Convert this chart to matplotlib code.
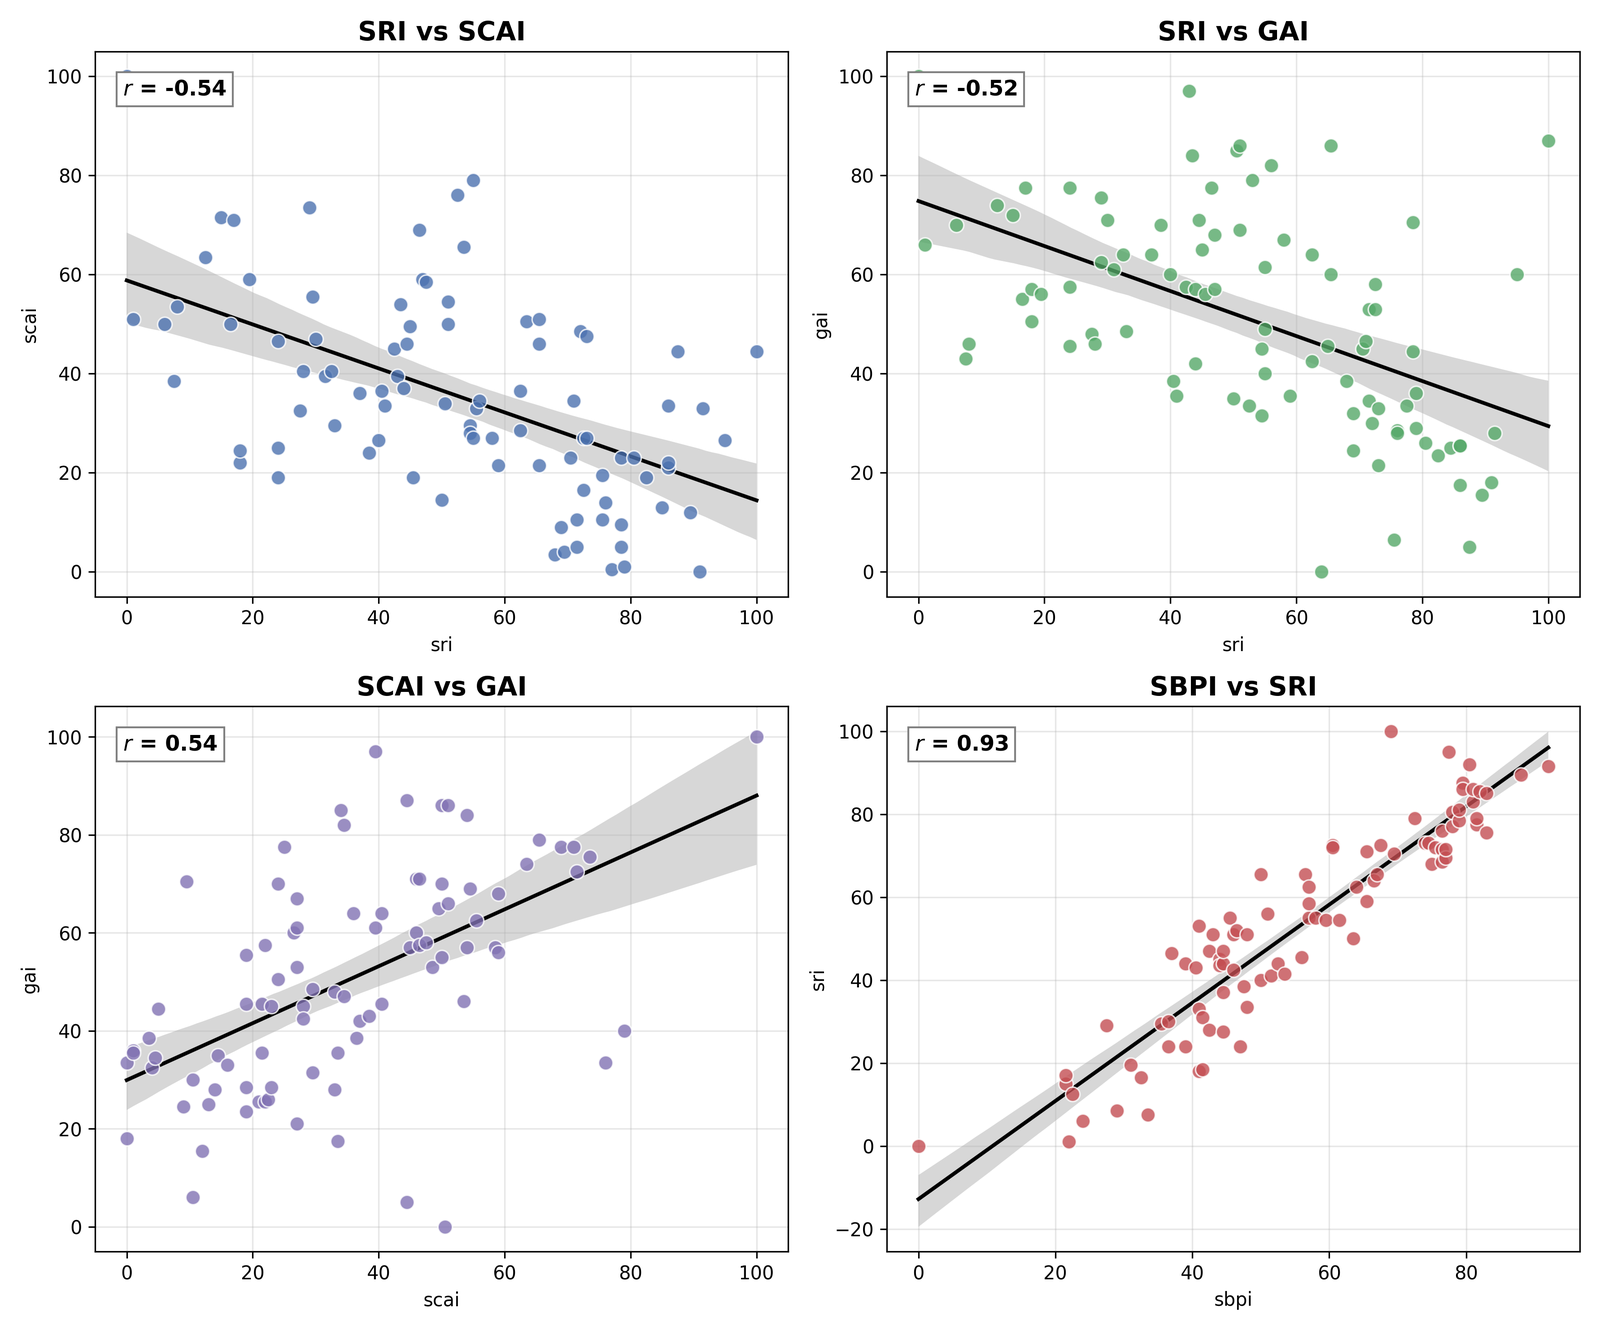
import numpy as np
import matplotlib.pyplot as plt
import seaborn as sns

# SRI vs SCAI
p1_sri = [0,1,6,7.5,8,12.5,15,16.5,17,18,18,19.5,24,24,24,27.5,28,29,29.5,30,31.5,32.5,33,37,38.5,40,40.5,41,42.5,43,43.5,44,44.5,45,45.5,46.5,47,47.5,50,50.5,51,51,52.5,53.5,54.5,54.5,55,55,55.5,56,58,59,62.5,62.5,63.5,65.5,65.5,65.5,68,69,69.5,70.5,71,71.5,71.5,72,72.5,72.5,73,73,75.5,75.5,76,77,78.5,78.5,78.5,79,80.5,82.5,85,86,86,86,87.5,89.5,91,91.5,95,100]
p1_scai = [100,51,50,38.5,53.5,63.5,71.5,50,71,22,24.5,59,46.5,25,19,32.5,40.5,73.5,55.5,47,39.5,40.5,29.5,36,24,26.5,36.5,33.5,45,39.5,54,37,46,49.5,19,69,59,58.5,14.5,34,54.5,50,76,65.5,29.5,28,27,79,33,34.5,27,21.5,36.5,28.5,50.5,21.5,46,51,3.5,9,4,23,34.5,5,10.5,48.5,27,16.5,47.5,27,10.5,19.5,14,0.5,5,9.5,23,1,23,19,13,21,22,33.5,44.5,12,0,33,26.5,44.5]

# SRI vs GAI
p2_sri = [0,1,6,7.5,8,12.5,15,16.5,17,18,18,19.5,24,24,24,27.5,28,29,29,30,31,32.5,33,37,38.5,40,40.5,41,42.5,43,43.5,44,44,44.5,45,45.5,46.5,47,47,50,50.5,51,51,52.5,53,54.5,54.5,55,55,55,56,58,59,62.5,62.5,65,65.5,65.5,64,68,69,69,70.5,71,71.5,71.5,72,72.5,72.5,73,73,75.5,76,76,77.5,78.5,78.5,79,79,80.5,82.5,84.5,86,86,86,87.5,89.5,91,91.5,95,100]
p2_gai = [100,66,70,43,46,74,72,55,77.5,57,50.5,56,77.5,57.5,45.5,48,46,75.5,62.5,71,61,64,48.5,64,70,60,38.5,35.5,57.5,97,84,57,42,71,65,56,77.5,68,57,35,85,86,69,33.5,79,31.5,45,61.5,40,49,82,67,35.5,64,42.5,45.5,86,60,0,38.5,24.5,32,45,46.5,34.5,53,30,53,58,33,21.5,6.5,28.5,28,33.5,44.5,70.5,36,29,26,23.5,25,25.5,25.5,17.5,5,15.5,18,28,60,87]

# SCAI vs GAI
p3_scai = [0,0,1,1,3.5,4,4.5,5,9,9.5,10.5,10.5,12,13,14,14.5,16,19,19,19,19,21,21.5,21.5,22,22,22.5,23,23,24,24,25,26.5,27,27,27,27,28,28,29.5,29.5,33,33,33.5,33.5,34,34.5,34.5,36,36.5,37,38.5,39.5,39.5,40.5,40.5,44.5,44.5,45,46,46,46.5,46.5,47.5,48.5,49.5,50,50,50,50.5,51,51,53.5,54,54,54.5,55.5,58.5,59,59,63.5,65.5,69,71,71.5,73.5,76,79,100]
p3_gai = [18,33.5,36,35.5,38.5,32.5,34.5,44.5,24.5,70.5,6,30,15.5,25,28,35,33,55.5,45.5,23.5,28.5,25.5,35.5,45.5,57.5,25.5,26,45,28.5,70,50.5,77.5,60,61,67,53,21,45,42.5,31.5,48.5,28,48,17.5,35.5,85,82,47,64,38.5,42,43,97,61,45.5,64,87,5,57,60,71,57.5,71,58,53,65,55,70,86,0,66,86,46,57,84,69,62.5,57,68,56,74,79,77.5,77.5,72.5,75.5,33.5,40,100]

# SBPI vs SRI
p4_sbpi = [0,21.5,21.5,22,22.5,24,27.5,29,31,32.5,33.5,35.5,36.5,37,36.5,39,39,40.5,41,41,41.5,41,41.5,42.5,42.5,43,44,44,44.5,44.5,44.5,44.5,45.5,46,46,46.5,47,47.5,48,48,50,50,51,51.5,52.5,53.5,56,56.5,57,57,57,58,59.5,60.5,60.5,61.5,63.5,64,65.5,65.5,66.5,67,67.5,69,69.5,72.5,74,74.5,75,75.5,76.5,76.5,76.5,77,77,77.5,78,78,79,79,79.5,79.5,80.5,81,81,81.5,81.5,82,83,83,88,92]
p4_sri = [0,15,17,1,12.5,6,29,8.5,19.5,16.5,7.5,29.5,30,46.5,24,44,24,43,33,18,18.5,53,31,47,28,51,45,43.5,44,47,27.5,37,55,51,42.5,52,24,38.5,33.5,51,40,65.5,56,41,44,41.5,45.5,65.5,55,58.5,62.5,55,54.5,72.5,72,54.5,50,62.5,59,71,64,65.5,72.5,100,70.5,79,73,73,68,72,76,71.5,68.5,69.5,71.5,95,77,80.5,78.5,81,87.5,86,92,83,86,77.5,79,85.5,75.5,85,89.5,91.5]

titles = ["SRI vs SCAI", "SRI vs GAI", "SCAI vs GAI", "SBPI vs SRI"]
xlabels = ["sri", "sri", "scai", "sbpi"]
ylabels = ["scai", "gai", "gai", "sri"]
r_labels = ["-0.54", "-0.52", "0.54", "0.93"]
colors = ["#4C72B0", "#55A868", "#8172B3", "#C44E52"]
xs = [p1_sri, p2_sri, p3_scai, p4_sbpi]
ys = [p1_scai, p2_gai, p3_gai, p4_sri]

fig, axes = plt.subplots(2, 2, figsize=(11.89, 9.887), dpi=300)
for ax, x, y, t, xl, yl, r, c in zip(axes.flat, xs, ys, titles, xlabels, ylabels, r_labels, colors):
    ax.scatter(x, y, s=60, color=c, alpha=0.8, edgecolor="white", linewidth=0.8, zorder=3)
    sns.regplot(x=np.array(x), y=np.array(y), ax=ax, scatter=False, ci=95,
                line_kws={"color": "black", "linewidth": 2})
    for coll in ax.collections[1:]:
        coll.set_facecolor("#b0b0b0")
        coll.set_alpha(0.5)
    ax.set_title(t, fontsize=14, fontweight="bold")
    ax.set_xlabel(xl)
    ax.set_ylabel(yl)
    ax.grid(alpha=0.3)
    ax.text(0.04, 0.95, "$r$ = " + r, transform=ax.transAxes, fontsize=11.5,
            fontweight="bold", va="top", zorder=5,
            bbox=dict(boxstyle="square", facecolor="white", edgecolor="gray"))

plt.tight_layout()
plt.savefig("out.png")
